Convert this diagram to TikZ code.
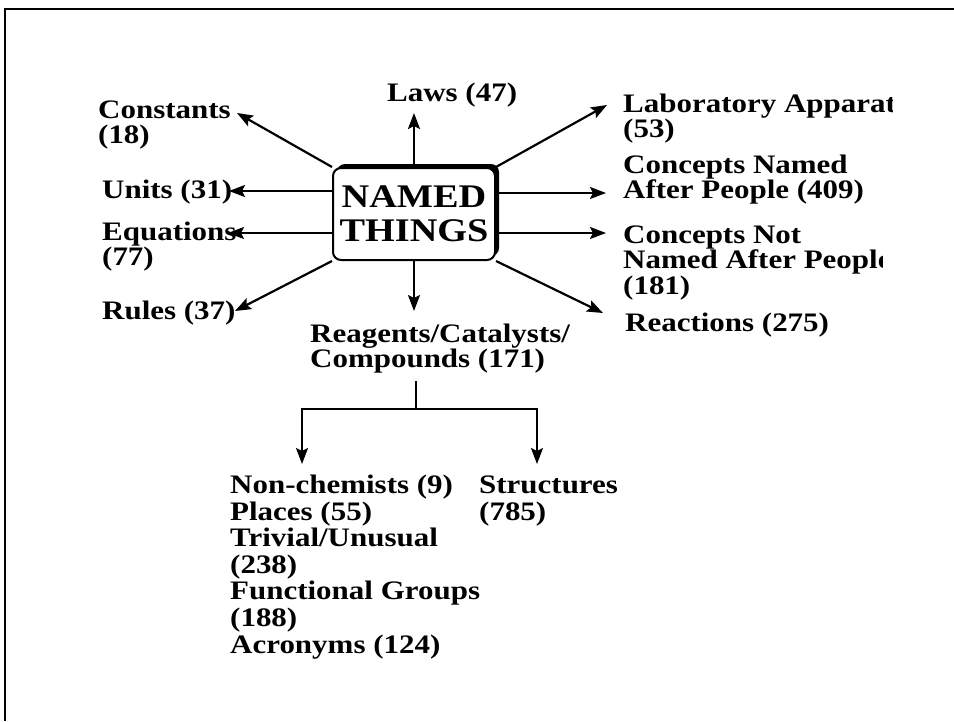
\documentclass[tikz,border=0pt]{standalone}
\usepackage{fontspec}
\setmainfont{Liberation Serif}[FakeStretch=1.16]
\usetikzlibrary{arrows.meta}
\begin{document}
\begin{tikzpicture}[x=1pt,y=-1pt,
  lbl/.style={anchor=base west, inner sep=0pt, align=left,
              font=\bfseries\fontsize{26.7}{25.8}\selectfont},
  tall/.style={font=\bfseries\fontsize{26.7}{26.6}\selectfont},
  hubbox/.style={minimum width=162pt, minimum height=92pt, rounded corners=8pt, inner sep=0pt},
  arr/.style={line width=2.2pt, -{Stealth[length=16pt,width=12pt,inset=3pt]}},
  ln/.style={line width=2.2pt}]
\useasboundingbox (0,0) rectangle (954,721);
\fill[white] (0,0) rectangle (954,721);
% page frame
\draw[line width=2.5pt] (954,9) -- (5,9) -- (5,721);

% central box with its offset shadow
\node[hubbox, fill=black] (hubshadow) at (418,210) {};
\node[hubbox, fill=white, draw, line width=2pt, align=center,
      font=\bfseries\fontsize{33}{34}\selectfont] (hub) at (414,214) {NAMED\\THINGS};

% labels on the left and top (anchored at the baseline of their last line)
\node[lbl] (laws) at (387,101) {Laws (47)};
\node[lbl] (const) at (98,143.8) {Constants\\(18)};
\node[lbl] (units) at (102,198) {Units (31)};
\node[lbl] (eqn) at (102,265.8) {Equations\\(77)};
\node[lbl] (rules) at (102,319) {Rules (37)};

% labels on the right, cut off at the column edge
\begin{scope}
  \clip (600,60) rectangle (892,150);
  \node[lbl] (lab) at (623,137.8) {Laboratory Apparat\\(53)};
\end{scope}
\begin{scope}
  \clip (600,150) rectangle (882,360);
  \node[lbl] (cnamed) at (623,198.8) {Concepts Named\\After People (409)};
  \node[lbl] (cnot) at (623,294.6) {Concepts Not\\Named After People\\(181)};
  \node[lbl] (react) at (625,331) {Reactions (275)};
\end{scope}

% lower labels
\node[lbl] (reag) at (310,367.8) {Reagents/Catalysts/\\Compounds (171)};
\node[lbl, tall] (misc) at (230,653)
  {Non-chemists (9)\\Places (55)\\Trivial/Unusual\\(238)\\Functional Groups\\(188)\\Acronyms (124)};
\node[lbl, tall] (struct) at (479,520) {Structures\\(785)};

% arrow end points
\coordinate (tLaws) at (414,113);
\coordinate (tConst) at (237,113);
\coordinate (tUnits) at (229,191);
\coordinate (tEqn) at (228,233);
\coordinate (tRules) at (235,311);
\coordinate (tLab) at (607,105);
\coordinate (tCN) at (606,193);
\coordinate (tCNot) at (606,233);
\coordinate (tReact) at (603,313);
\coordinate (tReag) at (414,311);
\coordinate (stem) at (416,381);
\coordinate (fork) at (416,409);
\coordinate (tLeft) at (302,464);
\coordinate (tRight) at (537,464);

% spokes from the central box
\draw[arr] (hub.north) -- (tLaws);
\draw[arr] (hub.north west) -- (tConst);
\draw[arr] (hub.west |- tUnits) -- (tUnits);
\draw[arr] (hub.west |- tEqn) -- (tEqn);
\draw[arr] (hub.south west) -- (tRules);
\draw[arr] (hub.north east) -- (tLab);
\draw[arr] (hub.east |- tCN) -- (tCN);
\draw[arr] (hub.east |- tCNot) -- (tCNot);
\draw[arr] (hub.south east) -- (tReact);
\draw[arr] (hub.south) -- (tReag);

% branch below the reagents label
\draw[ln] (stem) -- (fork);
\draw[arr] (fork) -| (tLeft);
\draw[arr] (fork) -| (tRight);
\end{tikzpicture}
\end{document}
